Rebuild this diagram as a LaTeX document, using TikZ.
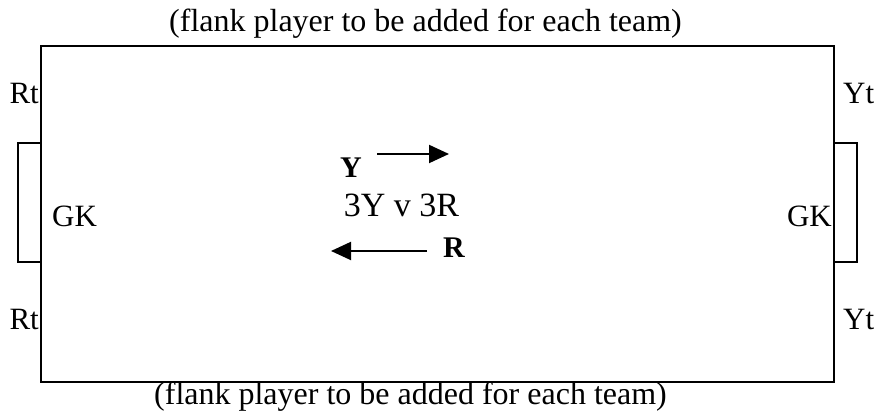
\documentclass[tikz,border=0pt]{standalone}
\usepackage{fontspec}
\setmainfont{Liberation Serif}
\usetikzlibrary{arrows.meta}
\begin{document}
\begin{tikzpicture}[x=1pt,y=1pt,
  lbl/.style={inner sep=0pt,font=\fontsize{31}{36}\selectfont},
  note/.style={inner sep=0pt,font=\fontsize{32}{38}\selectfont},
  centre/.style={inner sep=0pt,font=\fontsize{34}{40}\selectfont},
  team/.style={inner sep=0pt,font=\fontsize{30}{36}\selectfont\bfseries},
  line/.style={line width=2pt},
  dirarrow/.style={line width=2pt,-{Triangle[length=20pt,width=18pt]}}]
\useasboundingbox (0,0) rectangle (879,411);
% field
\draw[line] (41,29) rectangle (834,365);
% goals
\draw[line] (41,268) -- (18,268) -- (18,149) -- (41,149);
\draw[line] (834,268) -- (857,268) -- (857,149) -- (834,149);
% texts
\node[note,anchor=base] (top) at (425.5,379) {(flank player to be added for each team)};
\node[note,anchor=base] (bottom) at (410.5,6) {(flank player to be added for each team)};
\node[lbl,anchor=base east] (rt1) at (39,307) {Rt};
\node[lbl,anchor=base east] (rt2) at (39,81) {Rt};
\node[lbl,anchor=base west] (yt1) at (843,307) {Yt};
\node[lbl,anchor=base west] (yt2) at (843,81) {Yt};
\node[lbl,anchor=base west] (gk1) at (52,184) {GK};
\node[lbl,anchor=base east] (gk2) at (832,184) {GK};
\node[team,anchor=base west] (yl) at (340,233) {Y};
\node[centre,anchor=base] (vs) at (401.5,194) {3Y v 3R};
\node[team,anchor=base west] (rl) at (443,153) {R};
% arrows
\coordinate (ys) at (377,257);
\coordinate (ye) at (449,257);
\coordinate (rs) at (427,160);
\coordinate (re) at (331,160);
\draw[dirarrow] (ys) -- (ye);
\draw[dirarrow] (rs) -- (re);
\end{tikzpicture}
\end{document}
